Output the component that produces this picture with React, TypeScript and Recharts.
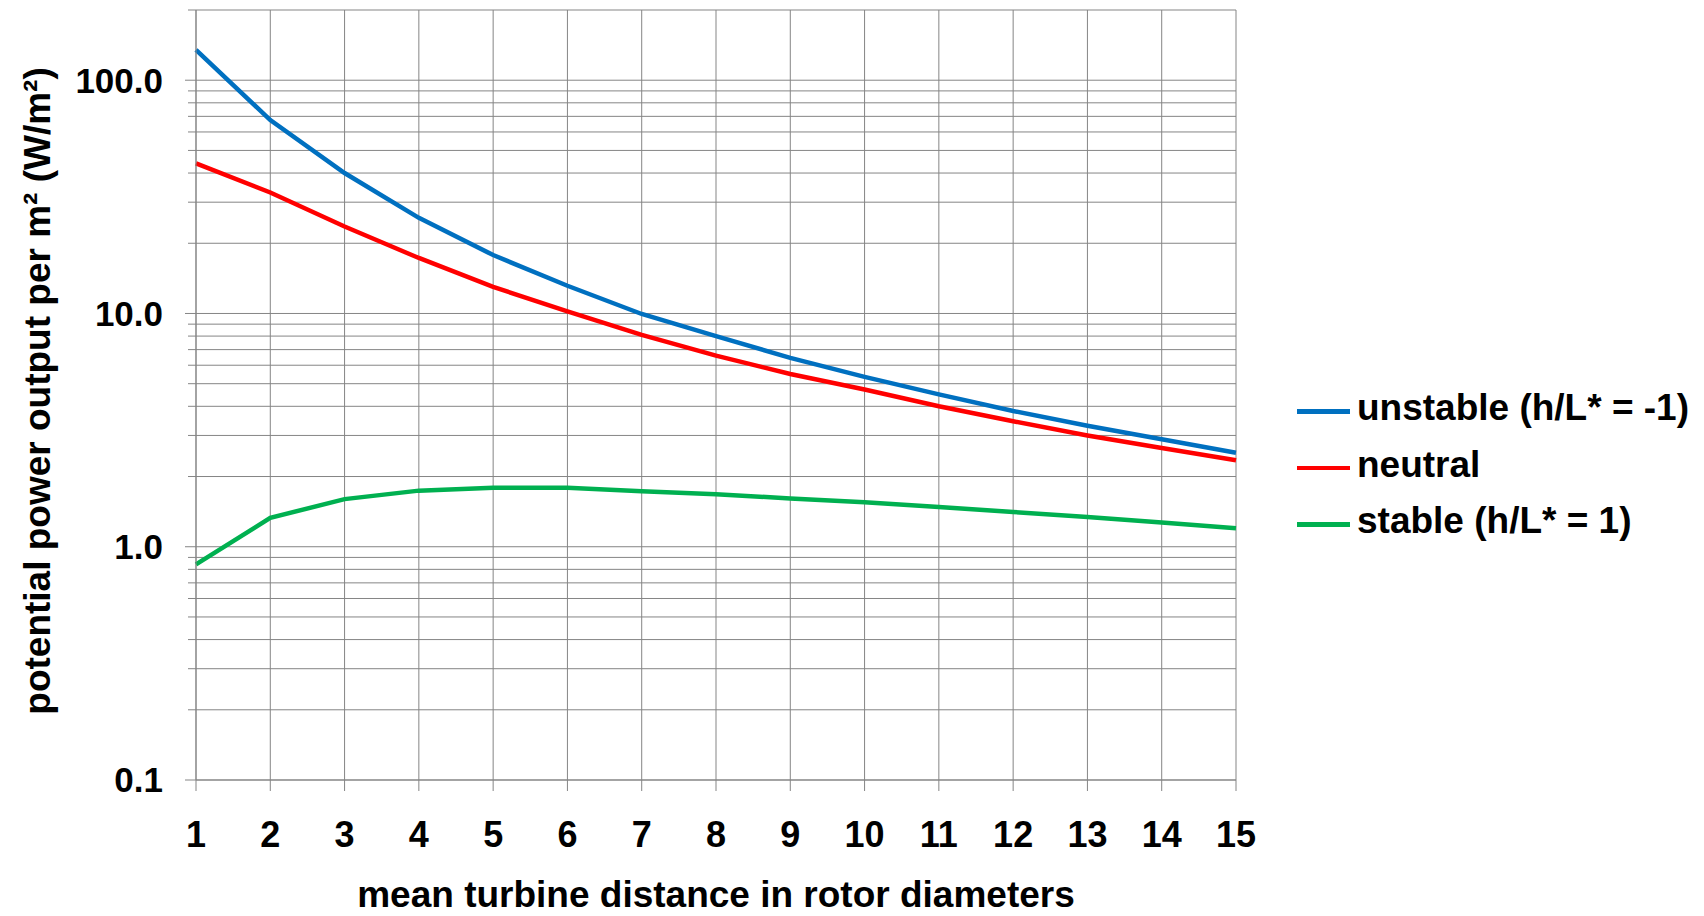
import React from 'react';
import { LineChart, Line, XAxis, YAxis, CartesianGrid, Legend } from 'recharts';

const distances = [1, 2, 3, 4, 5, 6, 7, 8, 9, 10, 11, 12, 13, 14, 15];
const unstable = [135, 67.5, 40, 25.7, 17.8, 13.15, 9.95, 8.0, 6.45, 5.35, 4.5, 3.82, 3.3, 2.89, 2.53];
const neutral = [44, 33, 23.6, 17.3, 13.0, 10.2, 8.1, 6.6, 5.5, 4.72, 4.0, 3.45, 3.0, 2.65, 2.35];
const stable = [0.84, 1.33, 1.6, 1.74, 1.79, 1.79, 1.73, 1.68, 1.61, 1.55, 1.48, 1.41, 1.34, 1.27, 1.2];

const seriesKeys = ['unstable', 'neutral', 'stable'];
const seriesNames = ['unstable (h/L* = -1)', 'neutral', 'stable (h/L* = 1)'];
const seriesColors = ['#0070C0', '#FF0000', '#00B050'];

const xTicks = [1, 2, 3, 4, 5, 6, 7, 8, 9, 10, 11, 12, 13, 14, 15];
const yMajorTicks = [0.1, 1, 10, 100];
const yMinorTicks = [0.2, 0.3, 0.4, 0.5, 0.6, 0.7, 0.8, 0.9, 2, 3, 4, 5, 6, 7, 8, 9, 20, 30, 40, 50, 60, 70, 80, 90, 200];

const xTitle = 'mean turbine distance in rotor diameters';
const yTitle = 'potential power output per m² (W/m²)';

const data = distances.map((d, i) => ({
  x: d,
  unstable: unstable[i],
  neutral: neutral[i],
  stable: stable[i],
}));

const yTicks = [...yMajorTicks, ...yMinorTicks].sort((a, b) => a - b);

const FONT = '"Liberation Sans", Arial, Helvetica, sans-serif';
const GRID = '#858585';
const Y_TICK_SIZE = 11;
const Y_TICK_MARGIN = 22;

const YTick = (props: any) => {
  const { x, y, payload } = props;
  const v = payload.value;
  const major = yMajorTicks.includes(v);
  const axisX = x + Y_TICK_MARGIN + Y_TICK_SIZE;
  const len = major ? 11 : 8;
  return (
    <g>
      <line x1={axisX - len} x2={axisX} y1={y} y2={y} stroke={GRID} strokeWidth={1} />
      {major && (
        <text x={x} y={y} dy="0.355em" textAnchor="end" fontSize={35} fontWeight={700} fontFamily={FONT} fill="#000">
          {v.toFixed(1)}
        </text>
      )}
    </g>
  );
};

const XTick = (props: any) => {
  const { x, y, payload } = props;
  return (
    <text x={x} y={y} dy="0.71em" textAnchor="middle" fontSize={36} fontWeight={700} fontFamily={FONT} fill="#000">
      {payload.value}
    </text>
  );
};

const XTitle = (props: any) => {
  const vb = props.viewBox || {};
  return (
    <text x={vb.x + vb.width / 2} y={vb.y + 127} textAnchor="middle" fontSize={37} fontWeight={700} fontFamily={FONT} fill="#000">
      {xTitle}
    </text>
  );
};

const YTitle = (props: any) => {
  const vb = props.viewBox || {};
  const cx = vb.x + 50;
  const cy = vb.y + vb.height / 2 - 4;
  return (
    <text x={cx} y={cy} transform={`rotate(-90, ${cx}, ${cy})`} textAnchor="middle" fontSize={37} fontWeight={700} fontFamily={FONT} fill="#000">
      {yTitle}
    </text>
  );
};

const renderLegend = (props: any) => {
  const payload = [...(props.payload || [])].sort(
    (a: any, b: any) => seriesNames.indexOf(a.value) - seriesNames.indexOf(b.value)
  );
  return (
    <div style={{ display: 'flex', flexDirection: 'column' }}>
      {payload.map((entry: any) => (
        <div key={entry.value} style={{ display: 'flex', alignItems: 'center', height: 56.5 }}>
          <div style={{ width: 53, height: 4.5, background: entry.color, position: 'relative', top: 3, marginRight: 7 }} />
          <span style={{ fontFamily: FONT, fontWeight: 700, fontSize: 37, lineHeight: 'normal', whiteSpace: 'nowrap', color: '#000' }}>
            {entry.value}
          </span>
        </div>
      ))}
    </div>
  );
};

export default function App() {
  return (
    <div style={{ position: 'absolute', left: 0, top: 0, width: 1704, height: 916, background: '#fff' }}>
      <LineChart width={1704} height={916} data={data} margin={{ top: 10, right: 468, bottom: 0, left: 0 }}>
        <CartesianGrid stroke={GRID} strokeWidth={1} />
        <XAxis
          dataKey="x"
          type="number"
          domain={[1, 15]}
          ticks={xTicks}
          interval={0}
          height={136}
          tickSize={11}
          tickMargin={30}
          axisLine={{ stroke: GRID, strokeWidth: 1 }}
          tickLine={{ stroke: GRID, strokeWidth: 1 }}
          tick={<XTick />}
          label={<XTitle />}
        />
        <YAxis
          type="number"
          scale="log"
          domain={[0.1, 200]}
          allowDataOverflow
          ticks={yTicks}
          interval={0}
          width={196}
          tickSize={Y_TICK_SIZE}
          tickMargin={Y_TICK_MARGIN}
          axisLine={{ stroke: GRID, strokeWidth: 1 }}
          tickLine={false}
          tick={<YTick />}
          label={<YTitle />}
        />
        <Legend
          layout="vertical"
          align="center"
          verticalAlign="middle"
          content={renderLegend}
          wrapperStyle={{ left: 1297, top: 380, width: 407 }}
        />
        {seriesKeys.map((k, i) => (
          <Line
            key={k}
            type="linear"
            dataKey={k}
            name={seriesNames[i]}
            stroke={seriesColors[i]}
            strokeWidth={4.5}
            dot={false}
            activeDot={false}
            isAnimationActive={false}
          />
        ))}
      </LineChart>
    </div>
  );
}
